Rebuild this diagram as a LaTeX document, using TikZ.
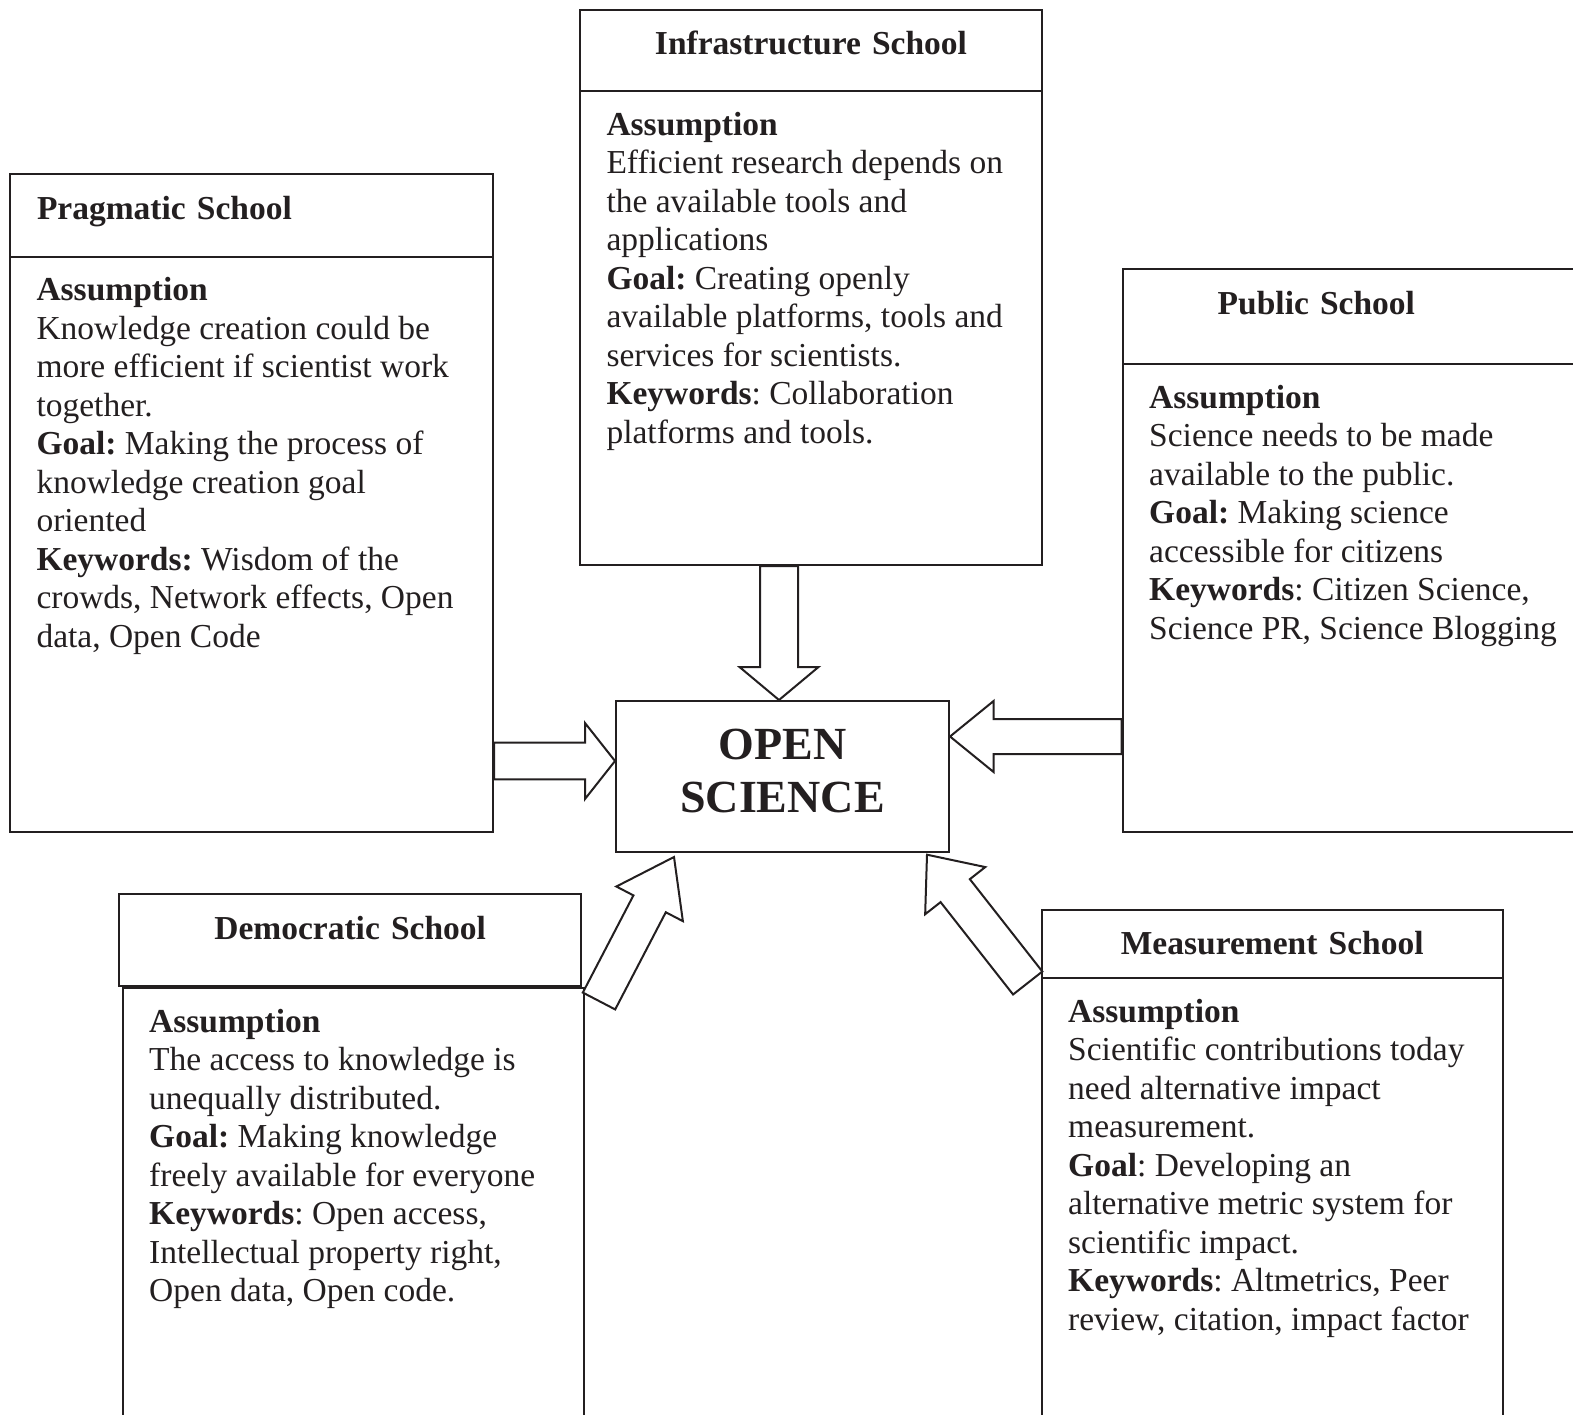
\documentclass[tikz,border=0pt]{standalone}
\usepackage{fontspec}
\setmainfont{Liberation Serif}
\usetikzlibrary{calc}
\definecolor{ink}{RGB}{35,31,32}
\frenchspacing
\tikzset{
    schoolhead/.style={
	anchor=north west,
	rectangle,
	draw=ink,
	line width=2pt,
	inner ysep=0pt,
	font=\fontsize{33.5}{38.5}\selectfont\bfseries,
	text height=22pt,
	text depth=#1
    },
    schoolbody/.style={
	anchor=north west,
	rectangle,
	draw=ink,
	line width=2pt,
	inner xsep=26.5pt,
	inner ysep=21pt,
	font=\fontsize{33.5}{38.5}\selectfont
    },
    hub/.style={
	anchor=north west,
	rectangle,
	draw=ink,
	line width=2pt,
	minimum width=333pt,
	minimum height=151pt,
	align=center,
	font=\fontsize{46}{53.4}\selectfont\bfseries,
	text depth=12pt
    },
    fatarrow/.style={
	draw=ink,
	fill=white,
	line width=2pt,
	line join=miter
    },
}
\newcommand\blurb[3]{%
    \parbox[c][#1][t]{#2}{#3}}
\newcommand\blockarrow[5]{%
    \coordinate (neck) at ($(#2)!#5!(#1)$);
    \draw[fatarrow]
	($(#1)!#3!90:(#2)$) -- ($(neck)!#3!-90:(#1)$) --
	($(neck)!#4!-90:(#1)$) -- (#2) --
	($(neck)!#4!90:(#1)$) -- ($(neck)!#3!90:(#1)$) --
	($(#1)!#3!-90:(#2)$) -- cycle;}

\begin{document}
\begin{tikzpicture}[x=1pt,y=-1pt,color=ink]

    \useasboundingbox (0,0) rectangle (1573,1415);

    \node[schoolhead=13.8pt, minimum height=83pt, inner xsep=27pt,
	text width=429pt, align=left] (PRAG) at (9,172.7) {%
	Pragmatic School};
    \node[schoolbody] (PRAGBODY) at (9,255.7) {%
	\blurb{533pt}{430pt}{%
	    \textbf{Assumption}\\
	    Knowledge creation could be\\
	    more efficient if scientist work\\
	    together.\\
	    \textbf{Goal:} Making the process of\\
	    knowledge creation goal\\
	    oriented\\
	    \textbf{Keywords:} Wisdom of the\\
	    crowds, Network effects, Open\\
	    data, Open Code}};

    \node[schoolhead=14.4pt, minimum height=81pt, inner xsep=0pt,
	text width=462pt, align=center] (INFRA) at (579,9) {%
	Infrastructure School};
    \node[schoolbody] (INFRABODY) at (579,90) {%
	\blurb{432pt}{409pt}{%
	    \textbf{Assumption}\\
	    Efficient research depends on\\
	    the available tools and\\
	    applications\\
	    \textbf{Goal:} Creating openly\\
	    available platforms, tools and\\
	    services for scientists.\\
	    \textbf{Keywords}: Collaboration\\
	    platforms and tools.}};

    \node[schoolhead=26.4pt, minimum height=95pt, inner xsep=95pt,
	text width=308pt, align=left] (PUBLIC) at (1121.7,268) {%
	Public School};
    \node[schoolbody] (PUBLICBODY) at (1121.7,363) {%
	\blurb{426pt}{445pt}{%
	    \textbf{Assumption}\\
	    Science needs to be made\\
	    available to the public.\\
	    \textbf{Goal:} Making science\\
	    accessible for citizens\\
	    \textbf{Keywords}: Citizen Science,\\
	    Science PR, Science Blogging}};

    \node[schoolhead=23.7pt, minimum height=92.3pt, inner xsep=0pt,
	text width=461.7pt, align=center] (DEMO) at (118.3,892.7) {%
	Democratic School};
    \node[schoolbody] (DEMOBODY) at (121.7,987) {%
	\blurb{450pt}{408pt}{%
	    \textbf{Assumption}\\
	    The access to knowledge is\\
	    unequally distributed.\\
	    \textbf{Goal:} Making knowledge\\
	    freely available for everyone\\
	    \textbf{Keywords}: Open access,\\
	    Intellectual property right,\\
	    Open data, Open code.}};

    \node[schoolhead=1.4pt, minimum height=68pt, inner xsep=0pt,
	text width=461pt, align=center] (MEAS) at (1040.7,909) {%
	Measurement School};
    \node[schoolbody] (MEASBODY) at (1040.7,977) {%
	\blurb{450pt}{408pt}{%
	    \textbf{Assumption}\\
	    Scientific contributions today\\
	    need alternative impact\\
	    measurement.\\
	    \textbf{Goal}: Developing an\\
	    alternative metric system for\\
	    scientific impact.\\
	    \textbf{Keywords}: Altmetrics, Peer\\
	    review, citation, impact factor}};

    \node[hub] (OPEN) at (615,700) {OPEN\\SCIENCE};

    % block arrows into the centre
    \coordinate (DOWNTIP) at ($(OPEN.north)+(-3.5,0)$);
    \coordinate (DOWNTAIL) at (DOWNTIP |- INFRABODY.south);
    \blockarrow{DOWNTAIL}{DOWNTIP}{19pt}{39.5pt}{33pt}

    \coordinate (LEFTTIP) at ($(OPEN.west)+(0,-15.5)$);
    \coordinate (LEFTTAIL) at (PRAGBODY.east |- LEFTTIP);
    \blockarrow{LEFTTAIL}{LEFTTIP}{18.4pt}{38pt}{30pt}

    \coordinate (RIGHTTIP) at ($(OPEN.east)+(0,-40)$);
    \coordinate (RIGHTTAIL) at (PUBLICBODY.west |- RIGHTTIP);
    \blockarrow{RIGHTTAIL}{RIGHTTIP}{17.5pt}{35.5pt}{43.6pt}

    \coordinate (DEMOTIP) at ($(OPEN.south west)+(59,4)$);
    \coordinate (DEMOTAIL) at ($(DEMO.south east)+(17,14)$);
    \blockarrow{DEMOTAIL}{DEMOTIP}{18.25pt}{37.5pt}{52.8pt}

    \coordinate (MEASTIP) at ($(OPEN.south east)+(-23,1.7)$);
    \coordinate (MEASTAIL) at ($(MEAS.south west)+(-13,4)$);
    \blockarrow{MEASTAIL}{MEASTIP}{18.6pt}{38.2pt}{45.7pt}
\end{tikzpicture}
\end{document}
